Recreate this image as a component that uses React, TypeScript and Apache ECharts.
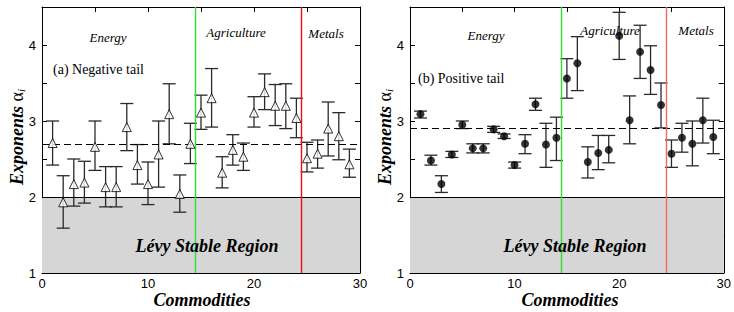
import React, { useEffect, useRef } from "react";
import * as echarts from "echarts";

const commodities = [1, 2, 3, 4, 5, 6, 7, 8, 9, 10, 11, 12, 13, 14, 15, 16, 17, 18, 19, 20, 21, 22, 23, 24, 25, 26, 27, 28, 29];

const negMid = [2.71, 1.93, 2.17, 2.19, 2.66, 2.13, 2.13, 2.92, 2.42, 2.17, 2.56, 3.09, 2.04, 2.70, 3.11, 3.30, 2.32, 2.62, 2.53, 3.11, 3.38, 3.20, 3.20, 3.04, 2.51, 2.57, 2.90, 2.80, 2.43];
const negHi = [3.00, 2.28, 2.50, 2.47, 3.00, 2.40, 2.40, 3.23, 2.69, 2.46, 3.00, 3.49, 2.29, 2.97, 3.34, 3.69, 2.53, 2.82, 2.71, 3.32, 3.62, 3.48, 3.49, 3.30, 2.72, 2.75, 3.25, 3.11, 2.63];
const negLo = [2.42, 1.59, 1.88, 1.92, 2.35, 1.87, 1.87, 2.61, 2.17, 1.90, 2.13, 2.70, 1.80, 2.44, 2.89, 2.92, 2.12, 2.42, 2.35, 2.92, 3.15, 2.94, 2.90, 2.78, 2.33, 2.38, 2.54, 2.49, 2.26];

const posMid = [3.09, 2.48, 2.17, 2.56, 2.95, 2.64, 2.64, 2.89, 2.80, 2.42, 2.70, 3.22, 2.69, 2.78, 3.56, 3.76, 2.46, 2.58, 2.62, 4.12, 3.01, 3.91, 3.67, 3.21, 2.57, 2.78, 2.70, 3.01, 2.79];
const posHi = [3.13, 2.55, 2.28, 2.60, 3.00, 2.70, 2.70, 2.93, 2.83, 2.46, 2.82, 3.30, 2.97, 3.05, 3.82, 4.11, 2.66, 2.81, 2.81, 4.43, 3.33, 4.26, 3.99, 3.50, 2.75, 2.97, 3.00, 3.30, 3.01];
const posLo = [3.04, 2.42, 2.06, 2.52, 2.90, 2.58, 2.58, 2.85, 2.77, 2.38, 2.57, 3.14, 2.39, 2.48, 3.30, 3.40, 2.25, 2.36, 2.45, 3.81, 2.70, 3.56, 3.35, 2.91, 2.39, 2.59, 2.41, 2.71, 2.57];

const negMean = 2.70;
const posMean = 2.91;
const levyLimit = 2;
const sectorBounds = [14.5, 24.5];

const yTickLabels = ["1", "2", "3", "4"];
const xTickLabels = ["0", "10", "20", "30"];

const SERIF = "Liberation Serif";
const SANS = "Liberation Sans";

export default function App() {
  const ref = useRef<HTMLDivElement>(null);
  useEffect(() => {
    if (!ref.current) return;
    const chart = echarts.init(ref.current, undefined, { renderer: "svg" });

    const grids = [
      { left: 42, top: 7, width: 318, height: 266 },
      { left: 410, top: 7, width: 318, height: 266 },
    ];

    const xAxes: any[] = [];
    const yAxes: any[] = [];
    [0, 1].forEach((g) => {
      xAxes.push({
        type: "value", gridIndex: g, position: "bottom", min: 0, max: 30, interval: 5,
        axisLine: { show: true, onZero: false, lineStyle: { color: "#000", width: 1 } },
        axisTick: { show: true, inside: true, length: 5, lineStyle: { color: "#000" } },
        splitLine: { show: false },
        axisLabel: {
          color: "#000", fontFamily: SANS, fontSize: 13, margin: 4,
          formatter: (v: number) => (xTickLabels.includes(String(v)) ? String(v) : ""),
        },
      });
      xAxes.push({
        type: "value", gridIndex: g, position: "top", min: 0, max: 30, interval: 5,
        axisLine: { show: true, onZero: false, lineStyle: { color: "#000", width: 1 } },
        axisTick: { show: true, inside: true, length: 5, lineStyle: { color: "#000" } },
        splitLine: { show: false }, axisLabel: { show: false },
      });
      yAxes.push({
        type: "value", gridIndex: g, position: "left", min: 1, max: 4.5, interval: 0.5,
        axisLine: { show: true, onZero: false, lineStyle: { color: "#000", width: 1 } },
        axisTick: { show: true, inside: true, length: 5, lineStyle: { color: "#000" } },
        splitLine: { show: false },
        axisLabel: {
          color: "#000", fontFamily: SANS, fontSize: 13, margin: 6,
          formatter: (v: number) => (yTickLabels.includes(String(v)) ? String(v) : ""),
        },
      });
      yAxes.push({
        type: "value", gridIndex: g, position: "right", min: 1, max: 4.5, interval: 0.5,
        axisLine: { show: true, onZero: false, lineStyle: { color: "#000", width: 1 } },
        axisTick: { show: true, inside: true, length: 5, lineStyle: { color: "#000" } },
        splitLine: { show: false }, axisLabel: { show: false },
      });
    });

    const errRender = (params: any, api: any) => {
      const x = api.value(0);
      const lo = api.value(1);
      const hi = api.value(2);
      const pLo = api.coord([x, lo]);
      const pHi = api.coord([x, hi]);
      const hw = 6.5;
      const st = { stroke: "#2a2a2a", lineWidth: 1.3 };
      return {
        type: "group",
        children: [
          { type: "line", shape: { x1: pLo[0], y1: pLo[1], x2: pHi[0], y2: pHi[1] }, style: st },
          { type: "line", shape: { x1: pLo[0] - hw, y1: pLo[1], x2: pLo[0] + hw, y2: pLo[1] }, style: st },
          { type: "line", shape: { x1: pHi[0] - hw, y1: pHi[1], x2: pHi[0] + hw, y2: pHi[1] }, style: st },
        ],
      };
    };

    const panelSeries = (g: number, mid: number[], lo: number[], hi: number[], mean: number, filled: boolean, redColor: string) => {
      const xi = g * 2;
      const yi = g * 2;
      return [
        {
          type: "custom", xAxisIndex: xi, yAxisIndex: yi, renderItem: errRender,
          data: commodities.map((c, i) => [c, lo[i], hi[i]]),
          encode: { x: 0, y: [1, 2] }, z: 3, silent: true,
          markArea: {
            silent: true,
            itemStyle: { color: "#d6d6d6" },
            data: [[{ yAxis: 1 }, { yAxis: levyLimit }]],
          },
          markLine: {
            silent: true, symbol: "none", label: { show: false },
            data: [
              { yAxis: mean, lineStyle: { type: [7, 4], color: "#000", width: 1.2 } },
              { yAxis: levyLimit, lineStyle: { type: "solid", color: "#000", width: 1.2 } },
              { xAxis: sectorBounds[0], lineStyle: { type: "solid", color: "#2ee02e", width: 1.4 } },
              { xAxis: sectorBounds[1], lineStyle: { type: "solid", color: redColor, width: 1.4 } },
            ],
          },
        },
        {
          type: "scatter", xAxisIndex: xi, yAxisIndex: yi, z: 5, silent: true,
          symbol: filled ? "circle" : "triangle",
          symbolSize: filled ? 8 : 9,
          itemStyle: filled
            ? { color: "#000" }
            : { color: "#fff", borderColor: "#000", borderWidth: 1 },
          data: commodities.map((c, i) => [c, mid[i]]),
        },
      ];
    };

    const txt = (x: number, y: number, text: string, size: number, style: string, weight: string, align = "center") => ({
      type: "text", x, y, z: 20, silent: true,
      style: {
        text, fontFamily: SERIF, fontSize: size, fontStyle: style, fontWeight: weight,
        fill: "#000", align, verticalAlign: "middle",
      },
    });

    const yTitle = (x: number, y: number) => ({
      type: "text", x, y, rotation: Math.PI / 2, z: 20, silent: true,
      style: {
        text: "{a|Exponents }{b|α}{c|i}",
        align: "center", verticalAlign: "middle", fill: "#000",
        rich: {
          a: { fontFamily: SERIF, fontSize: 18, fontWeight: "bold", fontStyle: "italic", fill: "#000" },
          b: { fontFamily: SERIF, fontSize: 18, fill: "#000" },
          c: { fontFamily: SERIF, fontSize: 11, fontStyle: "italic", fill: "#000", verticalAlign: "bottom", padding: [8, 0, 0, 0] },
        },
      },
    });

    chart.setOption({
      animation: false,
      backgroundColor: "#fff",
      grid: grids,
      xAxis: xAxes,
      yAxis: yAxes,
      series: [
        ...panelSeries(0, negMid, negLo, negHi, negMean, false, "#ee1111"),
        ...panelSeries(1, posMid, posLo, posHi, posMean, true, "#f06a6a"),
      ],
      graphic: [
        yTitle(17, 137),
        yTitle(385, 137),
        txt(108, 37, "Energy", 13, "italic", "normal"),
        txt(236, 32, "Agriculture", 13, "italic", "normal"),
        txt(326, 33, "Metals", 13, "italic", "normal"),
        txt(53, 69, "(a) Negative tail", 14, "normal", "normal", "left"),
        txt(207, 246, "Lévy Stable Region", 18, "italic", "bold"),
        txt(202, 300, "Commodities", 18, "italic", "bold"),
        txt(486, 35, "Energy", 13, "italic", "normal"),
        txt(610, 30, "Agriculture", 13, "italic", "normal"),
        txt(696, 30, "Metals", 13, "italic", "normal"),
        txt(418, 78, "(b) Positive tail", 14, "normal", "normal", "left"),
        txt(575, 246, "Lévy Stable Region", 18, "italic", "bold"),
        txt(570, 300, "Commodities", 18, "italic", "bold"),
      ],
    });
    return () => chart.dispose();
  }, []);
  return <div ref={ref} style={{ position: "fixed", left: 0, top: 0, width: 734, height: 312 }} />;
}
